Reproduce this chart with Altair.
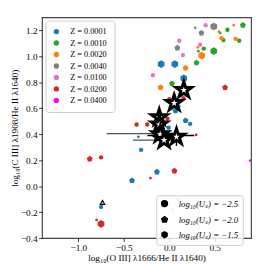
import altair as alt
import pandas as pd

# ---- data ----
z_labels = ["Z = 0.0001", "Z = 0.0010", "Z = 0.0020", "Z = 0.0040",
            "Z = 0.0100", "Z = 0.0200", "Z = 0.0400"]
z_colors = ["#1f77b4", "#2ca02c", "#ff7f0e", "#7f7f7f", "#e377c2", "#d62728", "#ff00ff"]
u_labels = ["log₁₀(Uₛ) = −2.5", "log₁₀(Uₛ) = −2.0", "log₁₀(Uₛ) = −1.5"]

# model points per metallicity: x, y, size class
blue_x = [-0.089, 0.061, 0.16, 0.18, 0.23, 0.068, 0.10, -0.007, -0.34, -0.31, -0.136, -0.41, -0.75]
blue_y = [0.94, 0.94, 0.83, 0.505, 0.48, 0.58, 0.615, 0.45, 0.38, 0.28, 0.11, 0.043, -0.16]
blue_s = ["L", "L", "L", "M", "S", "M", "S", "S", "T", "S", "M", "M", "S"]

green_x = [0.81, 0.64, 0.56, 0.596, 0.77, 0.38, 0.32, 0.49, 0.30, 0.03]
green_y = [1.24, 1.205, 1.18, 1.125, 1.12, 1.06, 1.04, 1.04, 0.95, 0.79]
green_s = ["M", "S", "T", "S", "S", "S", "T", "L", "M", "M"]

orange_x = [0.71, 0.546, 0.575, 0.73, 0.314, 0.357, 0.18, -0.096]
orange_y = [1.24, 1.19, 1.14, 1.135, 1.07, 1.005, 0.91, 0.76]
orange_s = ["T", "T", "S", "S", "T", "L", "M", "M"]

gray_x = [0.49, 0.286, 0.354, 0.089]
gray_y = [1.23, 1.22, 1.18, 1.065]
gray_s = ["L", "T", "M", "M"]

pink_x = [0.40, 0.11, 0.15, 0.34, -0.18, 0.096, 0.036]
pink_y = [1.24, 1.12, 1.01, 1.09, 0.855, -0.105, -0.18]
pink_s = ["S", "S", "S", "S", "S", "T", "T"]

red_x = [0.614, 0.0, 0.157, -0.02, -0.36, -0.243, 0.296, -0.875, -0.75, -0.207, 0.057, -0.75, -0.80]
red_y = [0.76, 0.67, 0.677, 0.52, 0.475, 0.475, 0.395, 0.21, 0.222, 0.0625, 0.1175, -0.29, -0.26]
red_s = ["M", "S", "S", "S", "S", "S", "T", "M", "S", "T", "M", "L", "T"]

mag_x = [0.89]
mag_y = [0.1975]
mag_s = ["T"]

# observed objects (stars)
star_x = [0.16, 0.054, -0.11, -0.11, -0.10, -0.057, 0.079]
star_y = [0.74, 0.64, 0.53, 0.475, 0.40, 0.355, 0.38]

# error bars
err_y = [0.405, 0.355, 0.39]
err_x1 = [-0.69, -0.40, -0.24]
err_x2 = [0.0, -0.03, 0.275]
err_col = ["#555555", "#555555", "#000000"]
verr_x = [0.079]
verr_y1 = [0.31]
verr_y2 = [0.44]

tri_x = [-0.735]
tri_y = [-0.125]

x_ticks = [-1.0, -0.5, 0.0, 0.5]
y_ticks = [-0.4, -0.2, 0.0, 0.2, 0.4, 0.6, 0.8, 1.0, 1.2]

size_map = {"T": 8, "S": 20, "M": 40, "L": 62}
shape_map = {"T": u_labels[0], "S": u_labels[0], "M": u_labels[1], "L": u_labels[2]}

rows = []
for lab, xs, ys, ss in zip(z_labels,
                           [blue_x, green_x, orange_x, gray_x, pink_x, red_x, mag_x],
                           [blue_y, green_y, orange_y, gray_y, pink_y, red_y, mag_y],
                           [blue_s, green_s, orange_s, gray_s, pink_s, red_s, mag_s]):
    for x, y, s in zip(xs, ys, ss):
        rows.append({"x": x, "y": y, "Z": lab, "U": shape_map[s], "sz": size_map[s]})
df = pd.DataFrame(rows)

stars = pd.DataFrame({"x": star_x, "y": star_y})
errs = pd.DataFrame({"y": err_y, "x1": err_x1, "x2": err_x2, "c": err_col})
verrs = pd.DataFrame({"x": verr_x, "y1": verr_y1, "y2": verr_y2})
tri = pd.DataFrame({"x": tri_x, "y": tri_y})

FONT = "Liberation Serif"
pentagon = "M0,-1L0.9511,-0.309L0.5878,0.809L-0.5878,0.809L-0.9511,-0.309Z"
hexagon = "M0,-1L0.866,-0.5L0.866,0.5L0,1L-0.866,0.5L-0.866,-0.5Z"
star_path = ("M0,-1L0.2245,-0.309L0.9511,-0.309L0.3633,0.118L0.5878,0.809L0,0.382"
             "L-0.5878,0.809L-0.3633,0.118L-0.9511,-0.309L-0.2245,-0.309Z")

xsc = alt.Scale(domain=[-1.4, 0.9], nice=False, zero=False)
ysc = alt.Scale(domain=[-0.4, 1.3], nice=False, zero=False)

XT = "log₁₀(O III] λ1666/He II λ1640)"
YT = "log₁₀(C III] λ1908/He II λ1640)"


def xax():
    return alt.Axis(values=x_ticks, format=".1f", labelOverlap=False, title=XT)


def yax():
    return alt.Axis(values=y_ticks, format=".1f", labelOverlap=False, title=YT)


pts = alt.Chart(df).mark_point(filled=True, opacity=1, clip=True).encode(
    x=alt.X("x:Q", scale=xsc, axis=xax()),
    y=alt.Y("y:Q", scale=ysc, axis=yax()),
    color=alt.Color("Z:N", scale=alt.Scale(domain=z_labels, range=z_colors),
                    legend=alt.Legend(title=None, orient="none", legendX=3.5, legendY=3.3,
                                      symbolType="circle", symbolSize=30,
                                      labelFont=FONT, labelFontSize=8.5,
                                      rowPadding=2.8, labelOffset=10, padding=7,
                                      fillColor="rgba(255,255,255,0.8)",
                                      strokeColor="#cccccc", cornerRadius=3,
                                      symbolStrokeWidth=0)),
    shape=alt.Shape("U:N", scale=alt.Scale(domain=u_labels,
                                           range=["circle", pentagon, hexagon]),
                    legend=alt.Legend(title=None, orient="none", legendX=117.5, legendY=183,
                                      symbolSize=36, symbolFillColor="black",
                                      symbolStrokeColor="black",
                                      labelFont=FONT, labelFontSize=9,
                                      labelFontStyle="italic",
                                      rowPadding=3.5, labelOffset=10, padding=4,
                                      fillColor="rgba(255,255,255,0.8)",
                                      strokeColor="#cccccc", cornerRadius=3)),
    size=alt.Size("sz:Q", scale=None),
)

hbars = alt.Chart(errs).mark_rule(strokeWidth=1.4).encode(
    x=alt.X("x1:Q", scale=xsc, axis=xax()), x2="x2:Q",
    y=alt.Y("y:Q", scale=ysc, axis=yax()),
    color=alt.Color("c:N", scale=None),
)
vbars = alt.Chart(verrs).mark_rule(strokeWidth=1.4, color="black").encode(
    x=alt.X("x:Q", scale=xsc, axis=xax()),
    y=alt.Y("y1:Q", scale=ysc, axis=yax()), y2="y2:Q",
)
star_layer = alt.Chart(stars).mark_point(shape=star_path, size=290, filled=True,
                                         fill="white", stroke="black",
                                         strokeWidth=3, opacity=1).encode(
    x=alt.X("x:Q", scale=xsc, axis=xax()),
    y=alt.Y("y:Q", scale=ysc, axis=yax()),
)
tri_layer = alt.Chart(tri).mark_point(shape="triangle-up", size=22, filled=True,
                                      fill="white", stroke="black",
                                      strokeWidth=1.2, opacity=1).encode(
    x=alt.X("x:Q", scale=xsc, axis=xax()),
    y=alt.Y("y:Q", scale=ysc, axis=yax()),
)

chart = alt.layer(pts, hbars, vbars, star_layer, tri_layer).resolve_scale(
    color="independent"
).properties(
    width=215, height=227,
    autosize=alt.AutoSizeParams(type="none"),
    padding={"left": 35, "top": 6, "right": 2, "bottom": 24},
).configure_view(
    stroke="#444444", strokeWidth=1.2
).configure_axis(
    grid=False, domain=False,
    labelFont=FONT, labelFontSize=9.5, labelColor="black",
    titleFont=FONT, titleFontSize=9.5, titleFontWeight="normal", titleColor="black",
    tickColor="black", tickSize=3.5, tickWidth=0.8, labelPadding=1.5,
).configure_axisY(titlePadding=1).configure_axisX(titlePadding=1)

chart.save("out.html", embed_options={"renderer": "svg", "actions": False})
